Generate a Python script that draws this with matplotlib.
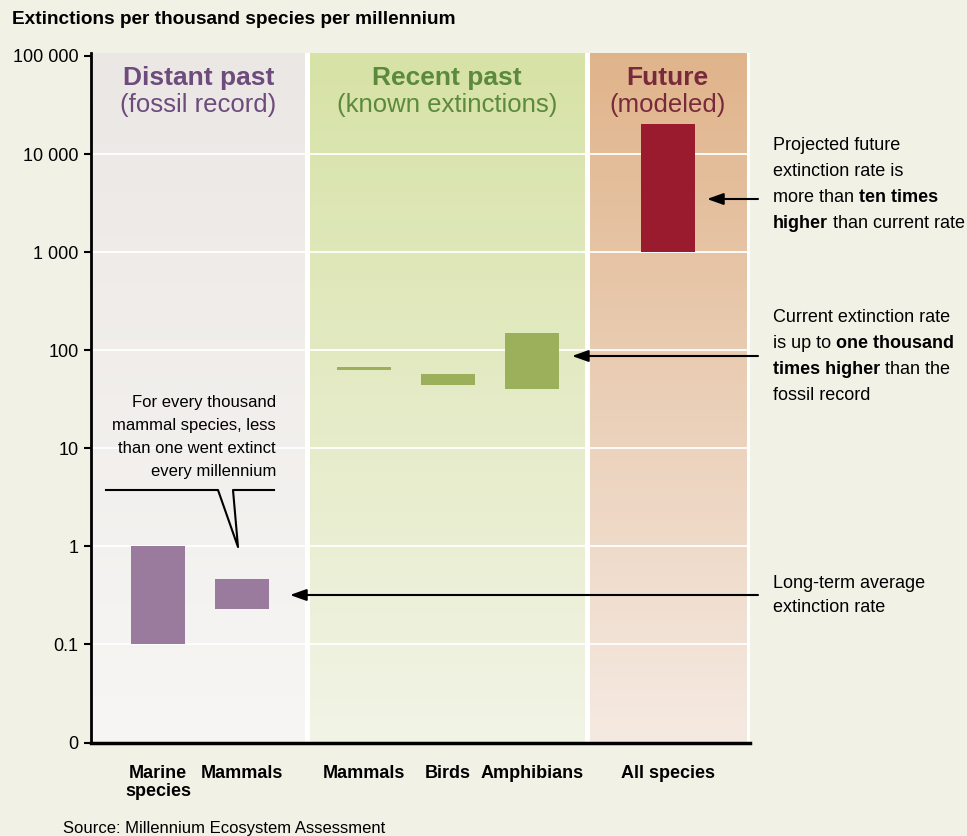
import numpy as np
import matplotlib
matplotlib.use("Agg")
from matplotlib import pyplot as plt
from matplotlib.lines import Line2D
from matplotlib.ticker import FixedLocator, FixedFormatter

W, H = 967, 836

# data (extinctions per thousand species per millennium, low / high)
categories = ["Marine\nspecies", "Mammals", "Mammals", "Birds", "Amphibians", "All species"]
low = [0.1, 0.23, 63, 44, 40, 1000]
high = [1.0, 0.47, 67, 57, 148, 20000]
positions = [0, 1, 2.45, 3.45, 4.45, 6.07]
bar_colors = ["#9a7b9d", "#9a7b9d", "#9cb05c", "#9cb05c", "#9cb05c", "#9b1b2e"]

ytick_vals = [0.01, 0.1, 1, 10, 100, 1000, 10000, 100000]
ytick_labels = ["0", "0.1", "1", "10", "100", "1 000", "10 000", "100 000"]

groups = ["Distant past", "Recent past", "Future"]
group_sub = ["(fossil record)", "(known extinctions)", "(modeled)"]
group_span = [(-0.785, 1.75), (1.81, 5.08), (5.14, 7.0)]
group_top = ["#ebe7e4", "#d7e2a6", "#e0b48b"]
group_bot = ["#f7f6f4", "#f2f4e6", "#f5eae2"]
group_txt = ["#6d4b7c", "#5b8a3c", "#78293a"]

plt.rcParams["font.family"] = ["Liberation Sans", "DejaVu Sans"]

fig = plt.figure(figsize=(W / 100, H / 100), dpi=100, facecolor="#f2f1e6")


def px(x, y):
    return x / W, 1 - y / H


x_lim = (-0.798, 7.05)
rect = [91 / W, (H - 742.5) / H, (750 - 91) / W, (742.5 - 53) / H]

# background panels with vertical gradients
bg = fig.add_axes(rect)
bg.set_facecolor("white")
bg.axis("off")
bg.add_patch(plt.Rectangle((x_lim[0], 0), x_lim[1] - x_lim[0], 1, color="white", zorder=0))
for (x0, x1), ct, cb in zip(group_span, group_top, group_bot):
    t = np.array(matplotlib.colors.to_rgb(ct))
    b = np.array(matplotlib.colors.to_rgb(cb))
    f = np.linspace(0, 1, 256)[:, None]
    img = (t * (1 - f) + b * f)[:, None, :]
    bg.imshow(img, extent=(x0, x1, 0, 1), aspect="auto", origin="upper", zorder=1)
bg.set_xlim(x_lim)
bg.set_ylim(0, 1)

ax = fig.add_axes(rect)
ax.set_facecolor("none")
ax.set_yscale("log")
ax.set_ylim(0.01, 10 ** 5.03)
ax.set_xlim(x_lim)

for v in ytick_vals[1:-1]:
    ax.axhline(v, color="white", lw=1.3, zorder=1)

heights = [h - l for l, h in zip(low, high)]
ax.bar(positions, heights, bottom=low, width=0.64, color=bar_colors, zorder=3)

ax.yaxis.set_major_locator(FixedLocator(ytick_vals))
ax.yaxis.set_major_formatter(FixedFormatter(ytick_labels))
ax.yaxis.set_minor_locator(FixedLocator([]))
ax.tick_params(axis="y", length=5, width=1.5, pad=4, labelsize=13, direction="out")
ax.set_xticks(positions)
ax.set_xticklabels(categories, fontsize=13, fontweight="bold", linespacing=1.1)
ax.tick_params(axis="x", length=0, pad=16)

for s in ["top", "right"]:
    ax.spines[s].set_visible(False)
ax.spines["left"].set_linewidth(2)
ax.spines["bottom"].set_linewidth(2.5)

# group headers
for g, sub, (x0, x1), c in zip(groups, group_sub, group_span, group_txt):
    xm = (x0 + x1) / 2
    ax.text(xm, 0.964, g, transform=ax.get_xaxis_transform(), ha="center", va="center",
            fontsize=19, fontweight="bold", color=c)
    ax.text(xm, 0.924, sub, transform=ax.get_xaxis_transform(), ha="center", va="center",
            fontsize=18.5, color=c)

# title and source
fig.text(*px(12, 19), "Extinctions per thousand species per millennium", fontsize=13.7,
         fontweight="bold", va="center", ha="left")
fig.text(*px(63, 828), "Source: Millennium Ecosystem Assessment", fontsize=12,
         va="center", ha="left")


def rich(x, y, parts, size=13):
    prev = fig.text(*px(x, y), parts[0][0], fontsize=size, fontweight=parts[0][1],
                    va="center", ha="left")
    for txt, wt in parts[1:]:
        prev = ax.annotate(txt, xy=(1, 0.5), xycoords=prev, fontsize=size, fontweight=wt,
                           va="center", ha="left", annotation_clip=False)


notes = [
    (146, [("Projected future", "normal")]),
    (172, [("extinction rate is", "normal")]),
    (197, [("more than ", "normal"), ("ten times", "bold")]),
    (223, [("higher", "bold"), (" than current rate", "normal")]),
    (318, [("Current extinction rate", "normal")]),
    (343, [("is up to ", "normal"), ("one thousand", "bold")]),
    (369, [("times higher", "bold"), (" than the", "normal")]),
    (395, [("fossil record", "normal")]),
    (583, [("Long-term average", "normal")]),
    (607, [("extinction rate", "normal")]),
]
for y, parts in notes:
    rich(773, y, parts)

# arrows
for x0, x1, y in [(758, 707, 199), (758, 572, 356), (758, 290, 595)]:
    ax.annotate("", xy=px(x1, y), xycoords="figure fraction", xytext=px(x0, y),
                textcoords="figure fraction",
                arrowprops=dict(arrowstyle="-|>,head_length=0.7,head_width=0.25",
                                color="black", lw=1.5, shrinkA=0, shrinkB=0,
                                mutation_scale=14), annotation_clip=False)

# callout for fossil mammals
callout = ["For every thousand", "mammal species, less", "than one went extinct", "every millennium"]
for i, line in enumerate(callout):
    fig.text(*px(276, 403 + 22.7 * i), line, fontsize=12, ha="right", va="center")
cx = [106, 218, 238, 233, 274]
cy = [490, 490, 547, 490, 490]
fig.add_artist(Line2D([x / W for x in cx], [1 - y / H for y in cy], color="black", lw=1.5,
                      transform=fig.transFigure))

fig.savefig("out.png", dpi=100, facecolor=fig.get_facecolor())
